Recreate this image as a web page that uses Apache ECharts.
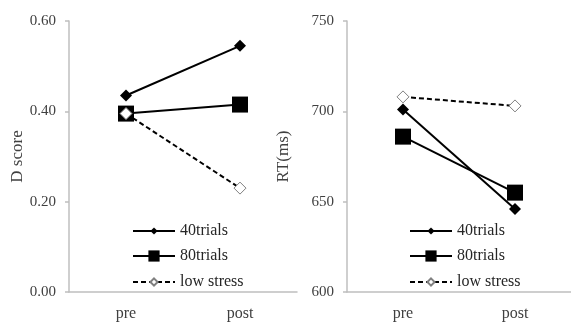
<!DOCTYPE html>
<html><head><meta charset="utf-8">
<script src="https://cdn.jsdelivr.net/npm/echarts@6/dist/echarts.min.js"></script>
<style>html,body{margin:0;padding:0;background:#fff}#c{width:571px;height:322px}</style>
</head><body><div id="c"></div>
<script>
const categories = ['pre', 'post'];
const seriesNames = ['40trials', '80trials', 'low stress'];
const dScore40 = [0.435, 0.545];
const dScore80 = [0.395, 0.415];
const dScoreLow = [0.395, 0.23];
const rt40 = [701, 646];
const rt80 = [686, 655];
const rtLow = [708, 703];
const dTicks = [0, 0.2, 0.4, 0.6];
const rtTicks = [600, 650, 700, 750];

const font = 'Liberation Serif, Times New Roman, serif';
const axisGray = '#bfbfbf';
const textCol = '#404040';

function styleFor(name) {
  if (name === '40trials') return {symbol: 'diamond', symbolSize: 12, itemStyle: {color: '#000'}, lineStyle: {color: '#000', width: 2}};
  if (name === '80trials') return {symbol: 'rect', symbolSize: 16, itemStyle: {color: '#000'}, lineStyle: {color: '#000', width: 2}};
  return {symbol: 'diamond', symbolSize: 12, itemStyle: {color: '#fff', borderColor: '#808080', borderWidth: 1}, lineStyle: {color: '#000', width: 2, type: [5, 3]}};
}

function yAxis(idx, ticks, name, gap, fmt) {
  return {
    gridIndex: idx, type: 'value', min: ticks[0], max: ticks[ticks.length - 1], interval: ticks[1] - ticks[0],
    name: name, nameLocation: 'middle', nameGap: gap, nameRotate: 90,
    nameTextStyle: {fontFamily: font, fontSize: 17, color: textCol},
    axisLine: {show: true, lineStyle: {color: axisGray, width: 1.5}},
    axisTick: {show: true, length: 4, lineStyle: {color: axisGray, width: 1.5}},
    splitLine: {show: false},
    axisLabel: {fontFamily: font, fontSize: 15, color: textCol, margin: 13, formatter: fmt}
  };
}
function xAxis(idx) {
  return {
    gridIndex: idx, type: 'category', data: categories, boundaryGap: true,
    axisLine: {show: true, lineStyle: {color: axisGray, width: 1.5}},
    axisTick: {show: false},
    axisLabel: {fontFamily: font, fontSize: 16, color: textCol, margin: 14}
  };
}

const leftData = [dScore40, dScore80, dScoreLow];
const rightData = [rt40, rt80, rtLow];
const series = [];
seriesNames.forEach((n, i) => {
  series.push(Object.assign({type: 'line', name: n, xAxisIndex: 0, yAxisIndex: 0, data: leftData[i], z: 2 + i, animation: false}, styleFor(n)));
});
seriesNames.forEach((n, i) => {
  series.push(Object.assign({type: 'line', name: n, xAxisIndex: 1, yAxisIndex: 1, data: rightData[i], z: 2 + i, animation: false}, styleFor(n)));
});

const legendHeights = {'40trials': 9, '80trials': 14, 'low stress': 9};
const legendCenters = [232, 257, 283];
const legends = [];
[132, 409].forEach(lx => {
  seriesNames.forEach((n, i) => {
    legends.push({
      data: [n], left: lx, top: legendCenters[i] - 9, padding: 0,
      itemWidth: 42, itemHeight: legendHeights[n], itemGap: 5, selectedMode: false,
      textStyle: {fontFamily: font, fontSize: 16, color: '#262626'}
    });
  });
});

const chart = echarts.init(document.getElementById('c'), null, {renderer: 'canvas'});
chart.setOption({
  backgroundColor: '#fff',
  animation: false,
  grid: [
    {left: 69, top: 21, width: 228, height: 274},
    {left: 347, top: 21, width: 228, height: 274}
  ],
  xAxis: [xAxis(0), xAxis(1)],
  yAxis: [
    yAxis(0, dTicks, 'D score', 41, v => v.toFixed(2)),
    yAxis(1, rtTicks, 'RT(ms)', 55, v => String(v))
  ],
  legend: legends,
  series: series
});
</script></body></html>
